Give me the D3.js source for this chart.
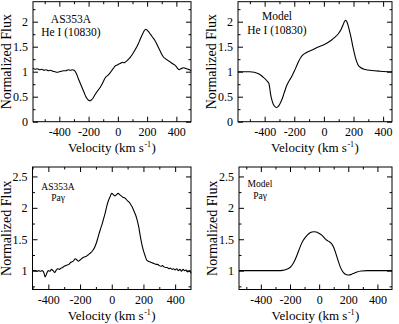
<!DOCTYPE html>
<html><head><meta charset="utf-8">
<script src="https://cdn.jsdelivr.net/npm/d3@7"></script>
<style>
html,body{margin:0;padding:0;background:#fff;}
svg{display:block;}
svg text{font-family:"Liberation Serif","Times New Roman","DejaVu Serif",serif !important;}
</style></head>
<body><svg id="c" width="399" height="324"></svg>
<script>
// ---- data ----
const heObsV = [-580,-565,-550,-535,-520,-505,-490,-475,-460,-445,-430,-415,-400,-385,-370,-355,-340,-325,-310,-300,-290,-280,-270,-260,-250,-240,-230,-220,-210,-200,-190,-180,-170,-160,-150,-140,-130,-120,-110,-100,-90,-80,-70,-60,-50,-40,-30,-20,-10,0,10,20,30,40,50,60,70,80,90,100,110,120,130,140,150,160,170,180,190,200,210,220,230,240,250,260,270,280,290,300,310,320,330,340,350,360,370,380,390,400,410,420,430,440,450,460,470,480,490,500];
const heObsF = [1.07,1.05,1.06,1.04,1.05,1.03,1.04,1.02,1.03,1.01,1.00,0.99,1.00,1.01,1.02,1.02,1.04,1.03,1.04,1.03,1.00,0.94,0.86,0.79,0.72,0.65,0.58,0.51,0.46,0.43,0.42,0.44,0.47,0.52,0.57,0.61,0.65,0.69,0.74,0.80,0.86,0.90,0.92,0.95,0.99,1.03,1.07,1.11,1.13,1.14,1.16,1.17,1.19,1.18,1.19,1.21,1.24,1.27,1.31,1.35,1.40,1.45,1.50,1.56,1.63,1.70,1.76,1.82,1.85,1.83,1.80,1.76,1.72,1.68,1.64,1.59,1.53,1.47,1.41,1.35,1.30,1.27,1.25,1.23,1.21,1.19,1.17,1.15,1.13,1.10,1.06,1.04,1.06,1.07,1.08,1.07,1.06,1.05,1.04,1.02];

const heModV = [-580,-540,-500,-470,-450,-430,-410,-395,-380,-372,-366,-360,-350,-340,-330,-320,-310,-300,-290,-280,-270,-260,-250,-240,-230,-220,-210,-200,-185,-170,-155,-140,-120,-100,-75,-50,-25,0,25,50,75,100,115,130,140,148,155,165,175,185,195,205,215,230,250,280,320,380,460];
const heModF = [1.00,1.00,1.00,0.99,0.97,0.94,0.89,0.85,0.80,0.77,0.68,0.55,0.42,0.34,0.30,0.28,0.30,0.34,0.40,0.47,0.56,0.65,0.73,0.79,0.84,0.89,0.95,1.01,1.11,1.21,1.29,1.34,1.38,1.41,1.44,1.48,1.51,1.54,1.58,1.63,1.69,1.77,1.84,1.94,2.01,2.03,2.00,1.91,1.79,1.66,1.51,1.38,1.26,1.14,1.08,1.045,1.025,1.01,1.00];

const paObsV = [-500,-490,-480,-470,-460,-450,-440,-430,-420,-410,-400,-390,-380,-370,-360,-350,-340,-330,-320,-310,-300,-290,-280,-270,-260,-250,-240,-230,-220,-210,-200,-190,-180,-170,-160,-150,-140,-130,-120,-110,-100,-90,-80,-70,-60,-50,-40,-30,-20,-10,0,10,20,30,40,50,60,70,80,90,100,110,120,130,140,150,160,170,180,190,200,210,220,230,240,250,260,270,280,290,300,310,320,330,340,350,360,370,380,390,400,410,420,430,440,450,460,470,480,490,500];
const paObsF = [1.00,1.00,1.00,0.99,1.00,0.99,1.00,0.98,0.90,0.96,1.00,0.99,1.02,1.00,0.97,1.01,1.03,1.02,1.04,1.05,1.07,1.08,1.09,1.10,1.13,1.14,1.16,1.19,1.17,1.15,1.17,1.19,1.21,1.22,1.23,1.25,1.27,1.29,1.32,1.36,1.42,1.50,1.59,1.67,1.75,1.84,1.93,2.04,2.12,2.18,2.23,2.21,2.19,2.21,2.23,2.21,2.19,2.17,2.16,2.14,2.11,2.09,2.05,2.01,1.95,1.89,1.81,1.70,1.55,1.42,1.32,1.24,1.17,1.15,1.14,1.13,1.12,1.11,1.10,1.10,1.08,1.07,1.08,1.06,1.05,1.05,1.03,1.04,1.02,1.03,1.01,1.03,1.00,1.02,0.99,1.02,1.00,1.01,0.98,1.00,0.96];

const paModV = [-550,-450,-350,-280,-250,-230,-215,-200,-185,-170,-155,-140,-125,-110,-95,-80,-65,-50,-35,-20,-5,10,25,40,55,70,85,100,115,130,145,160,175,190,205,220,240,260,290,330,400,500];
const paModF = [1.00,1.00,1.00,1.00,1.005,1.015,1.03,1.05,1.09,1.15,1.23,1.32,1.41,1.48,1.53,1.57,1.60,1.615,1.62,1.615,1.60,1.58,1.55,1.51,1.48,1.46,1.43,1.37,1.27,1.16,1.06,0.99,0.95,0.935,0.93,0.94,0.96,0.98,0.995,1.00,1.00,1.00];

const panelLabels = [["AS353A","He I (10830)"],["Model","He I (10830)"],["AS353A","Pa\u03b3"],["Model","Pa\u03b3"]];
const xMajor = [-400,-200,0,200,400];
const xMinor = [-500,-300,-100,100,300];
const yMajorTop = [0,0.5,1,1.5,2];
const yMinorTop = [0.25,0.75,1.25,1.75,2.25];
const yMajorBot = [1,1.5,2,2.5];
const yMinorBot = [0.75,1.25,1.75,2.25];

// ---- layout ----
const panels = [
  {x0:33, x1:191, y0:1.7, y1:121.7, xd:[-580,500], yd:[0,2.4], v:heObsV, f:heObsF, ym:yMajorTop, yn:yMinorTop, lab:panelLabels[0], lx:71, ly:[23,36], lfs:11.5},
  {x0:238, x1:392, y0:1.7, y1:121.7, xd:[-580,460], yd:[0,2.4], v:heModV, f:heModF, ym:yMajorTop, yn:yMinorTop, lab:panelLabels[1], lx:277, ly:[20,34], lfs:11.5},
  {x0:32.5, x1:191, y0:167, y1:289.5, xd:[-500,500], yd:[0.7,2.65], v:paObsV, f:paObsF, ym:yMajorBot, yn:yMinorBot, lab:panelLabels[2], lx:58, ly:[190,201], lfs:9.5},
  {x0:239, x1:392, y0:167, y1:289.5, xd:[-550,500], yd:[0.7,2.65], v:paModV, f:paModF, ym:yMajorBot, yn:yMinorBot, lab:panelLabels[3], lx:260, ly:[187,199], lfs:9.5}
];

const svg = d3.select("#c");
const fmt = d => String(d);

panels.forEach(p => {
  const x = d3.scaleLinear().domain(p.xd).range([p.x0, p.x1]);
  const y = d3.scaleLinear().domain(p.yd).range([p.y1, p.y0]);
  const g = svg.append("g");

  const styleAxis = sel => {
    sel.attr("font-family", null);
    sel.select(".domain").remove();
    sel.selectAll("line").attr("stroke","#000").attr("stroke-width",1);
    sel.selectAll("text").attr("font-size",12).attr("fill","#000");
  };
  // bottom
  g.append("g").attr("transform",`translate(0,${p.y1})`)
    .call(d3.axisBottom(x).tickValues(xMajor).tickSize(-5).tickPadding(6).tickFormat(fmt)).call(styleAxis);
  g.append("g").attr("transform",`translate(0,${p.y1})`)
    .call(d3.axisBottom(x).tickValues(xMinor).tickSize(-2.5).tickFormat("")).call(styleAxis);
  // top
  g.append("g").attr("transform",`translate(0,${p.y0})`)
    .call(d3.axisTop(x).tickValues(xMajor).tickSize(-5).tickFormat("")).call(styleAxis);
  g.append("g").attr("transform",`translate(0,${p.y0})`)
    .call(d3.axisTop(x).tickValues(xMinor).tickSize(-2.5).tickFormat("")).call(styleAxis);
  // left
  g.append("g").attr("transform",`translate(${p.x0},0)`)
    .call(d3.axisLeft(y).tickValues(p.ym).tickSize(-5).tickPadding(5).tickFormat(fmt)).call(styleAxis);
  g.append("g").attr("transform",`translate(${p.x0},0)`)
    .call(d3.axisLeft(y).tickValues(p.yn).tickSize(-2.5).tickFormat("")).call(styleAxis);
  // right
  g.append("g").attr("transform",`translate(${p.x1},0)`)
    .call(d3.axisRight(y).tickValues(p.ym).tickSize(-5).tickFormat("")).call(styleAxis);
  g.append("g").attr("transform",`translate(${p.x1},0)`)
    .call(d3.axisRight(y).tickValues(p.yn).tickSize(-2.5).tickFormat("")).call(styleAxis);

  // frame
  g.append("rect").attr("x",p.x0).attr("y",p.y0).attr("width",p.x1-p.x0).attr("height",p.y1-p.y0)
    .attr("fill","none").attr("stroke","#000").attr("stroke-width",1);

  // curve
  const pts = p.v.map((v,i)=>[v,p.f[i]]);
  g.append("path").datum(pts)
    .attr("d", d3.line().x(d=>x(d[0])).y(d=>y(d[1])).curve(d3.curveMonotoneX))
    .attr("fill","none").attr("stroke","#000").attr("stroke-width",1.1).attr("stroke-linejoin","round");

  // in-panel labels
  p.lab.forEach((t,i)=>{
    g.append("text").attr("x",p.lx).attr("y",p.ly[i]).attr("text-anchor","middle")
      .attr("font-size",p.lfs).text(t);
  });

  // axis titles
  const xt = g.append("text").attr("x",(p.x0+p.x1)/2).attr("y",p.y1+30).attr("text-anchor","middle").attr("font-size",13);
  xt.append("tspan").text("Velocity (km s");
  xt.append("tspan").attr("dy",-5).attr("dx",0.5).attr("font-size",8).text("-1");
  xt.append("tspan").attr("dy",5).attr("dx",0.5).text(")");
  g.append("text").attr("transform",`translate(${p.x0-22},${(p.y0+p.y1)/2}) rotate(-90)`)
    .attr("text-anchor","middle").attr("font-size",14).text("Normalized Flux");
});
</script></body></html>
